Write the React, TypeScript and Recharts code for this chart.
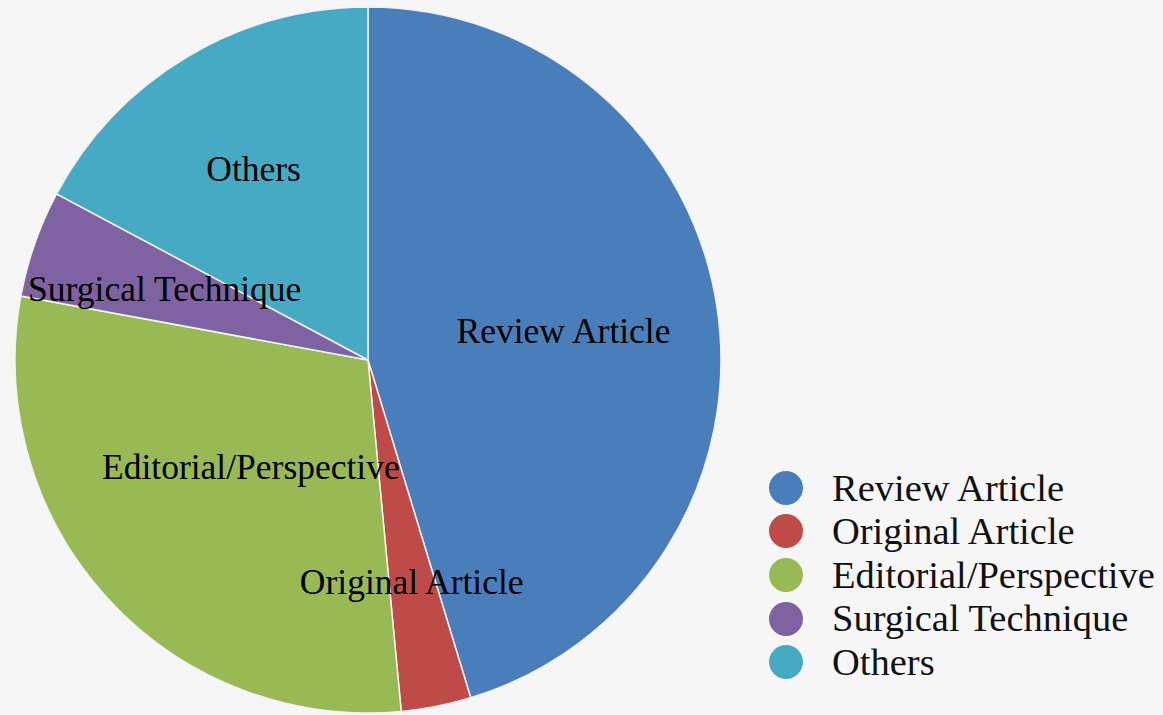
import { Legend, Pie, PieChart } from "recharts"

const categories = ["Review Article", "Original Article", "Editorial/Perspective", "Surgical Technique", "Others"]
const shares = [45.3, 3.2, 29.4, 4.9, 17.2]
const colors = ["#4a7ebb", "#be4b48", "#98b954", "#7e62a1", "#47aac5"]

// label distance from centre, as a share of the radius (hand-placed like the original)
const labelRadius = [0.56, 0.64, 0.45, 0.61, 0.63]

const data = categories.map((name, i) => ({ name, value: shares[i], fill: colors[i] }))

const RAD = Math.PI / 180
const serif = '"Liberation Serif", "Times New Roman", serif'

const renderLabel = (props: any) => {
  const { cx, cy, midAngle, outerRadius, index, name } = props
  const r = outerRadius * labelRadius[index]
  const x = cx + r * Math.cos(-midAngle * RAD)
  const y = cy + r * Math.sin(-midAngle * RAD)
  return (
    <text x={x} y={y} fill="#000" textAnchor="middle" dominantBaseline="central" fontSize={35.5} fontFamily={serif}>
      {name}
    </text>
  )
}

const LegendBox = () => (
  <div style={{ fontFamily: serif, fontSize: 38.5, color: "#111" }}>
    {categories.map((c, i) => (
      <div key={c} style={{ display: "flex", alignItems: "center", height: 43.6 }}>
        <span
          style={{
            width: 34,
            height: 34,
            borderRadius: "50%",
            background: colors[i],
            marginRight: 29,
            flex: "none",
          }}
        />
        <span style={{ lineHeight: 1 }}>{c}</span>
      </div>
    ))}
  </div>
)

export default function App() {
  return (
    <div style={{ position: "absolute", left: 0, top: 0, width: 1163, height: 715, background: "#f6f6f6" }}>
      <PieChart width={1163} height={715} margin={{ top: 0, right: 0, bottom: 0, left: 0 }}>
        <Pie
          data={data}
          dataKey="value"
          nameKey="name"
          cx={368}
          cy={360}
          outerRadius={353}
          startAngle={90}
          endAngle={-270}
          stroke="#f2f2f2"
          strokeWidth={1.5}
          label={renderLabel}
          labelLine={false}
          isAnimationActive={false}
        />
        <Legend
          content={<LegendBox />}
          wrapperStyle={{ left: 769, top: 466, width: 394, bottom: "auto" }}
        />
      </PieChart>
    </div>
  )
}
